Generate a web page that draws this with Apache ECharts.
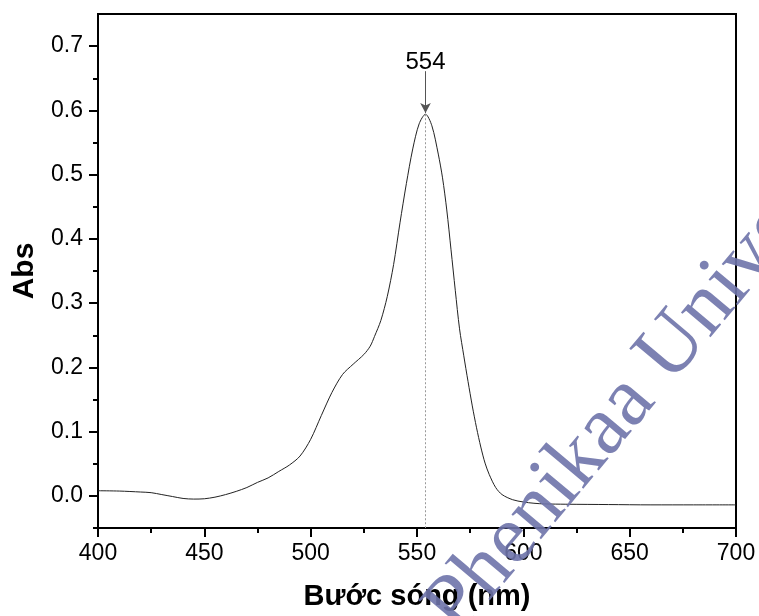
<!DOCTYPE html>
<html>
<head>
<meta charset="utf-8">
<script src="https://cdn.jsdelivr.net/npm/echarts@6/dist/echarts.min.js"></script>
<style>html,body{margin:0;padding:0;background:#fff;}#c{width:759px;height:616px;}</style>
</head>
<body>
<div id="c"></div>
<script>
const wavelengths = [400,410,420,425,430,435,440,445,450,455,460,465,470,475,480,485,490,495,500,505,510,515,520,525,528,530,533,536,539,542,545,548,551,554,557,560,562,564,566,568,570,572,574,576,578,580,582,584,587,590,595,600,605,610,620,640,660,680,700];
const absValues = [0.008,0.0075,0.006,0.005,0.002,-0.001,-0.004,-0.005,-0.0045,-0.002,0.002,0.007,0.013,0.021,0.028,0.038,0.048,0.062,0.088,0.125,0.161,0.189,0.205,0.22,0.233,0.248,0.273,0.31,0.36,0.425,0.486,0.54,0.579,0.594,0.576,0.532,0.495,0.445,0.383,0.32,0.26,0.218,0.178,0.14,0.106,0.076,0.051,0.033,0.013,0.002,-0.006,-0.0095,-0.0115,-0.0125,-0.013,-0.0135,-0.014,-0.014,-0.014];
const xTicks = [400,450,500,550,600,650,700];
const yMajorTicks = [0.0,0.1,0.2,0.3,0.4,0.5,0.6,0.7];
const yMinorTicks = [-0.05,0.05,0.15,0.25,0.35,0.45,0.55,0.65];
const peakWavelength = 554;
const peakAbs = 0.594;
const arrowTopAbs = 0.661;
const xTitle = 'Bước sóng (nm)';
const yTitle = 'Abs';
const watermark = 'Phenikaa University';

const chart = echarts.init(document.getElementById('c'));
const font = 'Arial, "Liberation Sans", sans-serif';
const seriesData = wavelengths.map((w, i) => [w, absValues[i]]);

chart.setOption({
  animation: false,
  backgroundColor: '#fff',
  grid: {left: 98, right: 23, top: 14, bottom: 88, show: true, borderColor: '#000', borderWidth: 2, backgroundColor: 'transparent'},
  xAxis: {
    type: 'value', min: xTicks[0], max: xTicks[xTicks.length-1], interval: 50,
    name: xTitle, nameLocation: 'middle', nameGap: 54,
    nameTextStyle: {fontFamily: font, fontWeight: 'bold', fontSize: 29, color: '#000'},
    axisLine: {show: true, onZero: false, lineStyle: {color: '#000', width: 2}},
    axisTick: {show: true, inside: false, length: 9, lineStyle: {color: '#000', width: 2}},
    minorTick: {show: true, splitNumber: 2, length: 5, lineStyle: {color: '#000', width: 2}},
    axisLabel: {fontFamily: font, fontSize: 23, color: '#000', margin: 14},
    splitLine: {show: false}, minorSplitLine: {show: false}
  },
  yAxis: [{
    type: 'value', min: -0.05, max: 0.75, position: 'left',
    name: yTitle, nameLocation: 'middle', nameGap: 58, nameRotate: 90,
    nameTextStyle: {fontFamily: font, fontWeight: 'bold', fontSize: 30, color: '#000'},
    axisLine: {show: true, onZero: false, lineStyle: {color: '#000', width: 2}},
    axisTick: {show: true, inside: false, length: 9, customValues: yMajorTicks, lineStyle: {color: '#000', width: 2}},
    axisLabel: {fontFamily: font, fontSize: 23, color: '#000', margin: 15, customValues: yMajorTicks, formatter: v => v.toFixed(1)},
    splitLine: {show: false}
  }, {
    type: 'value', min: -0.05, max: 0.75, position: 'left', offset: 0,
    axisLine: {show: false, onZero: false},
    axisTick: {show: true, inside: false, length: 5, customValues: yMinorTicks, lineStyle: {color: '#000', width: 2}},
    axisLabel: {show: false},
    splitLine: {show: false}
  }],
  series: [{
    type: 'line', data: seriesData, showSymbol: false, smooth: 0.3,
    lineStyle: {color: '#222', width: 1},
    markLine: {
      silent: true, animation: false,
      data: [
        [{coord: [peakWavelength, peakAbs], symbol: 'none', lineStyle: {type: [2, 2], color: '#999', width: 1}, label: {show: false}},
         {coord: [peakWavelength, -0.05], symbol: 'none'}],
        [{coord: [peakWavelength, arrowTopAbs], symbol: 'none', lineStyle: {type: 'solid', color: '#555', width: 1},
          label: {show: true, position: 'start', formatter: String(peakWavelength), fontFamily: font, fontSize: 24, color: '#000', distance: -3}},
         {coord: [peakWavelength, peakAbs + 0.002], symbol: 'arrow', symbolSize: [8, 10]}]
      ]
    }
  }],
  graphic: [{
    type: 'text', x: 474, y: 650, rotation: 50 * Math.PI / 180, z: 100,
    style: {text: watermark, font: '84px "Liberation Serif", "DejaVu Serif", serif', fill: 'rgba(110,115,170,0.9)', textVerticalAlign: 'bottom'}
  }]
});
</script>
</body>
</html>
